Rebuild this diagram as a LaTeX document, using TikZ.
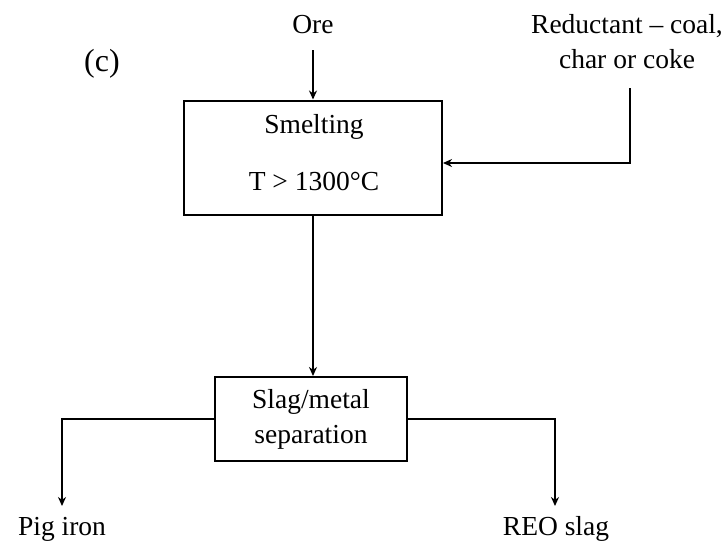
\documentclass[tikz,border=0pt]{standalone}
\usepackage{fontspec}
\setmainfont{Liberation Serif}
\usetikzlibrary{arrows.meta}
\begin{document}
\begin{tikzpicture}[x=1pt,y=-1pt,
  lbl/.style={font=\fontsize{27.5}{35}\selectfont, align=center, inner sep=0pt},
  boxst/.style={draw, line width=2pt, inner sep=0pt},
  conn/.style={line width=1.6pt, -{Stealth[length=9pt,width=8pt]}}]
\useasboundingbox (0,0) rectangle (726,544);
% labels
\node[lbl] (ore) at (313,25) {Ore};
\node[lbl, font=\fontsize{32}{36}\selectfont] (c) at (102,64) {(c)};
\node[lbl] (red) at (627,42) {Reductant -- coal,\\char or coke};
% boxes
\node[boxst, minimum width=258pt, minimum height=114pt] (smelt) at (313,157.5) {};
\node[lbl] (smelttxt) at (314,127) {Smelting};
\node[lbl] (temp) at (314,181) {T > 1300°C};
\node[boxst, minimum width=192pt, minimum height=84pt, lbl, draw, line width=2pt] (sep) at (311,419) {Slag/metal\\separation};
% outputs
\node[lbl] (pig) at (62,529) {Pig iron};
\node[lbl] (reo) at (556,529) {REO slag};
% coordinates
\coordinate (oretop) at (313,50);
\coordinate (redtop) at (630,88);
\coordinate (redcorner) at (630,163);
\coordinate (pigcorner) at (62,419);
\coordinate (pigend) at (62,506);
\coordinate (reocorner) at (555,419);
\coordinate (reoend) at (555,506);
% connectors
\draw[conn] (oretop) -- (smelt.north -| oretop);
\draw[conn] (redtop) -- (redcorner) -- (smelt.east |- redcorner);
\draw[conn] (smelt.south -| oretop) -- (sep.north -| oretop);
\draw[conn] (sep.west) -- (pigcorner) -- (pigend);
\draw[conn] (sep.east) -- (reocorner) -- (reoend);
\end{tikzpicture}
\end{document}
